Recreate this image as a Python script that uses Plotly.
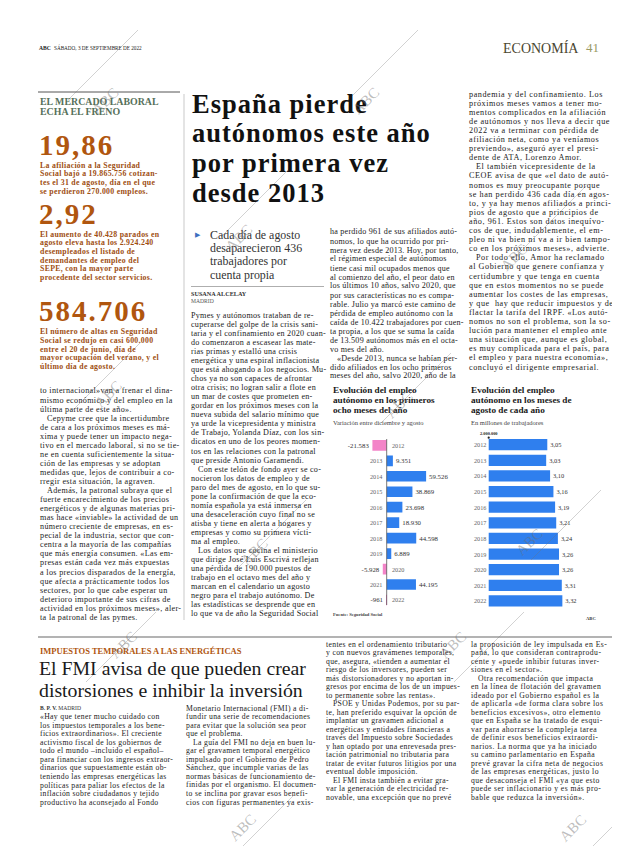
import plotly.graph_objects as go

W, H = 620, 846
def X(px): return px / W
def Y(py): return 1 - py / H

# ---------------- DATA ----------------
years = ["2012", "2013", "2014", "2015", "2016", "2017", "2018", "2019", "2020", "2021", "2022"]
var_dic_ago = [-21583, 9351, 59526, 38869, 23698, 18930, 44598, 6889, -5928, 44195, -961]
agosto_millones = [3.05, 3.03, 3.10, 3.16, 3.19, 3.21, 3.24, 3.26, 3.26, 3.31, 3.32]

chart1_title = ["Evolución del empleo", "autónomo en los primeros", "ocho meses del año"]
chart1_sub = "Variación entre diciembre y agosto"
chart2_title = ["Evolución del empleo", "autónomo en los meses de", "agosto de cada año"]
chart2_sub = "En millones de trabajadores"
chart2_base_label = "2.000.000"

sidebar_head = ["EL MERCADO LABORAL", "ECHA EL FRENO"]
sidebar_nums = ["19,86", "2,92", "584.706"]
sidebar_txt = [
    ["La afiliación a la Seguridad", "Social bajó a 19.865.756 cotizan-",
     "tes el 31 de agosto, día en el que", "se perdieron 270.000 empleos."],
    ["El aumento de 40.428 parados en", "agosto eleva hasta los 2.924.240",
     "desempleados el listado de", "demandantes de empleo del",
     "SEPE, con la mayor parte", "procedente del sector servicios."],
    ["El número de altas en Seguridad", "Social se redujo en casi 600.000",
     "entre el 20 de junio, día de", "mayor ocupación del verano, y el",
     "último día de agosto."],
]

headline = ["España pierde", "autónomos este año", "por primera vez", "desde 2013"]
subhead = ["Cada día de agosto", "desaparecieron 436", "trabajadores por", "cuenta propia"]

col1 = [
    "to internacional»van a frenar el dina-", "mismo económico y del empleo en la",
    "última parte de este año».", "^Cepyme cree que la incertidumbre",
    "de cara a los próximos meses es má-", "xima y puede tener un impacto nega-",
    "tivo en el mercado laboral, si no se tie-", "ne en cuenta suficientemente la situa-",
    "ción de las empresas y se adoptan", "medidas que, lejos de contribuir a co-",
    "rregir esta situación, la agraven.", "^Además, la patronal subraya que el",
    "fuerte encarecimiento de los precios", "energéticos y de algunas materias pri-",
    "mas hace «inviable» la actividad de un", "número creciente de empresas, en es-",
    "pecial de la industria, sector que con-", "centra a la mayoría de las compañías",
    "que más energía consumen. «Las em-", "presas están cada vez más expuestas",
    "a los precios disparados de la energía,", "que afecta a prácticamente todos los",
    "sectores, por lo que cabe esperar un", "deterioro importante de sus cifras de",
    "actividad en los próximos meses», aler-", "ta la patronal de las pymes.",
]
col2 = [
    "Pymes y autónomos trataban de re-", "cuperarse del golpe de la crisis sani-",
    "taria y el confinamiento en 2020 cuan-", "do comenzaron a escasear las mate-",
    "rias primas y estalló una crisis", "energética y una espiral inflacionista",
    "que está ahogando a los negocios. Mu-", "chos ya no son capaces de afrontar",
    "otra crisis; no logran salir a flote en", "un mar de costes que prometen en-",
    "gordar en los próximos meses con la", "nueva subida del salario mínimo que",
    "ya urde la vicepresidenta y ministra", "de Trabajo, Yolanda Díaz, con los sin-",
    "dicatos en uno de los peores momen-", "tos en las relaciones con la patronal",
    "que preside Antonio Garamendi.", "^Con este telón de fondo ayer se co-",
    "nocieron los datos de empleo y de", "paro del mes de agosto, en lo que su-",
    "pone la confirmación de que la eco-", "nomía española ya está inmersa en",
    "una desaceleración cuyo final no se", "atisba y tiene en alerta a hogares y",
    "empresas y como su primera vícti-", "ma al empleo.",
    "^Los datos que cocina el ministerio", "que dirige José Luis Escrivá reflejan",
    "una pérdida de 190.000 puestos de", "trabajo en el octavo mes del año y",
    "marcan en el calendario un agosto", "negro para el trabajo autónomo. De",
    "las estadísticas se desprende que en", "lo que va de año la Seguridad Social",
]
col3 = [
    "ha perdido 961 de sus afiliados autó-", "nomos, lo que ha ocurrido por pri-",
    "mera vez desde 2013. Hoy, por tanto,", "el régimen especial de autónomos",
    "tiene casi mil ocupados menos que", "al comienzo del año, el peor dato en",
    "los últimos 10 años, salvo 2020, que", "por sus características no es compa-",
    "rable. Julio ya marcó este camino de", "pérdida de empleo autónomo con la",
    "caída de 10.422 trabajadores por cuen-", "ta propia, a los que se suma la caída",
    "de 13.509 autónomos más en el octa-", "vo mes del año.",
    "^«Desde 2013, nunca se habían per-", "dido afiliados en los ocho primeros",
    "meses del año, salvo 2020, año de la",
]
col4 = [
    "pandemia y del confinamiento. Los", "próximos meses vamos a tener mo-",
    "mentos complicados en la afiliación", "de autónomos y nos lleva a decir que",
    "2022 va a terminar con pérdida de", "afiliación neta, como ya veníamos",
    "previendo», aseguró ayer el presi-", "dente de ATA, Lorenzo Amor.",
    "^El también vicepresidente de la", "CEOE avisa de que «el dato de autó-",
    "nomos es muy preocupante porque", "se han perdido 436 cada día en agos-",
    "to, y ya hay menos afiliados a princi-", "pios de agosto que a principios de",
    "año, 961. Estos son datos inequívo-", "cos de que, indudablemente, el em-",
    "pleo ni va bien ni va a ir bien tampo-", "co en los próximos meses», advierte.",
    "^Por todo ello, Amor ha reclamado", "al Gobierno que genere confianza y",
    "certidumbre y que tenga en cuenta", "que en estos momentos no se puede",
    "aumentar los costes de las empresas,", "y que  hay que reducir impuestos y de-",
    "flactar la tarifa del IRPF. «Los autó-", "nomos no son el problema, son la so-",
    "lución para mantener el empleo ante", "una situación que, aunque es global,",
    "es muy complicada para el país, para", "el empleo y para nuestra economía»,",
    "concluyó el dirigente empresarial.",
]

kicker2 = "IMPUESTOS TEMPORALES A LAS ENERGÉTICAS"
headline2 = ["El FMI avisa de que pueden crear", "distorsiones e inhibir la inversión"]
colA = [
    "«Hay que tener mucho cuidado con", "los impuestos temporales a los bene-",
    "ficios extraordinarios». El creciente", "activismo fiscal de los gobiernos de",
    "todo el mundo –incluido el español–", "para financiar con los ingresos extraor-",
    "dinarios que supuestamente están ob-", "teniendo las empresas energéticas las",
    "políticas para paliar los efectos de la", "inflación sobre ciudadanos y tejido",
    "productivo ha aconsejado al Fondo",
]
colB = [
    "Monetario Internacional (FMI) a di-", "fundir una serie de recomendaciones",
    "para evitar que la solución sea peor", "que el problema.",
    "^La guía del FMI no deja en buen lu-", "gar el gravamen temporal energético",
    "impulsado por el Gobierno de Pedro", "Sánchez, que incumple varias de las",
    "normas básicas de funcionamiento de-", "finidas por el organismo. El documen-",
    "to se inclina por gravar esos benefi-", "cios con figuras permanentes ya exis-",
]
colC = [
    "tentes en el ordenamiento tributario", "y con nuevos gravámenes temporales,",
    "que, asegura, «tienden a aumentar el", "riesgo de los inversores, pueden ser",
    "más distorsionadores y no aportan in-", "gresos por encima de los de un impues-",
    "to permanente sobre las rentas».", "^PSOE y Unidas Podemos, por su par-",
    "te, han preferido esquivar la opción de", "implantar un gravamen adicional a",
    "energéticas y entidades financieras a", "través del Impuesto sobre Sociedades",
    "y han optado por una enrevesada pres-", "tación patrimonial no tributaria para",
    "tratar de evitar futuros litigios por una", "eventual doble imposición.",
    "^El FMI insta también a evitar gra-", "var la generación de electricidad re-",
    "novable, una excepción que no prevé",
]
colD = [
    "la proposición de ley impulsada en Es-", "paña, lo que consideran contraprodu-",
    "cente y «puede inhibir futuras inver-", "siones en el sector».",
    "^Otra recomendación que impacta", "en la línea de flotación del gravamen",
    "ideado por el Gobierno español es la", "de aplicarla «de forma clara sobre los",
    "beneficios excesivos», otro elemento", "que en España se ha tratado de esqui-",
    "var para ahorrarse la compleja tarea", "de definir esos beneficios extraordi-",
    "narios. La norma que ya ha iniciado", "su camino parlamentario en España",
    "prevé gravar la cifra neta de negocios", "de las empresas energéticas, justo lo",
    "que desaconseja el FMI «ya que esto", "puede ser inflacionario y es más pro-",
    "bable que reduzca la inversión».",
]

# ---------------- STYLE ----------------
SERIF = "Liberation Serif"
BLUE = "#2f7fee"
PINK = "#f384c8"
BROWN = "#b0560f"
BROWN_TXT = "#9e4e12"
GREEN = "#56705a"
INK = "#222222"

ann = []
shapes = []

def txt(x, y, s, size, color=INK, family=SERIF, anchor="left", yanchor="middle", ls=0, **kw):
    if ls:
        s = f'<span style="letter-spacing:{ls}px">' + s + "</span>"
    ann.append(dict(x=X(x), y=Y(y), xref="paper", yref="paper", text=s, showarrow=False,
                    xanchor=anchor, yanchor=yanchor, align=anchor,
                    borderpad=0, font=dict(family=family, size=size, color=color), **kw))

def block(lines, x, y0, dy, size, color=INK, family=SERIF, indent=7, bold=False, ls=0):
    for i, s in enumerate(lines):
        ind = 0
        if s.startswith("^"):
            s = s[1:]
            ind = indent
        if bold:
            s = "<b>" + s + "</b>"
        txt(x + ind, y0 + i * dy, s, size, color, family, ls=ls)

def hline(x0, x1, y, color, w):
    shapes.append(dict(type="line", xref="paper", yref="paper", x0=X(x0), x1=X(x1),
                       y0=Y(y), y1=Y(y), line=dict(color=color, width=w)))

def vline(x, y0, y1, color, w):
    shapes.append(dict(type="line", xref="paper", yref="paper", x0=X(x), x1=X(x),
                       y0=Y(y0), y1=Y(y1), line=dict(color=color, width=w)))

# ---------------- FIGURE ----------------
fig = go.Figure()
fig.add_trace(go.Bar(
    y=years, x=var_dic_ago, orientation="h",
    marker=dict(color=[PINK if v < 0 else BLUE for v in var_dic_ago], line=dict(width=0)),
    width=0.69,
    text=[f"{v:,}".replace(",", ".") for v in var_dic_ago],
    textposition="outside", constraintext="none", cliponaxis=False,
    textfont=dict(family=SERIF, size=6.8, color="#333"),
    xaxis="x", yaxis="y", hoverinfo="skip"))
fig.add_trace(go.Bar(
    y=years, x=agosto_millones, orientation="h",
    marker=dict(color=BLUE, line=dict(width=0)),
    width=0.72,
    text=[f"{v:.2f}".replace(".", ",") for v in agosto_millones],
    textposition="outside", constraintext="none",
    textfont=dict(family=SERIF, size=6.4, color="#333"),
    xaxis="x2", yaxis="y2", hoverinfo="skip"))

# chart 1 year labels (category index positions)
for i, (yr, v) in enumerate(zip(years, var_dic_ago)):
    ann.append(dict(x=0, y=i, xref="x", yref="y", text=yr, showarrow=False,
                    xanchor="right" if v >= 0 else "left", xshift=-3 if v >= 0 else 3,
                    font=dict(family=SERIF, size=6.2, color="#666")))
# chart 2 year labels
for i, yr in enumerate(years):
    ann.append(dict(x=X(464), y=i, xref="paper", yref="y2", text=yr, showarrow=False,
                    xanchor="left", font=dict(family=SERIF, size=6.2, color="#666")))

shapes.append(dict(type="line", xref="x", yref="paper", x0=0, x1=0, y0=Y(597), y1=Y(431),
                   line=dict(color="#555", width=0.8)))
shapes.append(dict(type="circle", xref="paper", yref="paper", x0=X(479.6), x1=X(481.8),
                   y0=Y(430.8), y1=Y(428.6), fillcolor="#222", line=dict(width=0)))

# header
txt(30, 40, "<b>ABC</b>", 5.6)
txt(45, 40, "SÁBADO, 3 DE SEPTIEMBRE DE 2022", 5.2)
txt(572, 40, "ECONOMÍA", 14, "#4a4630", anchor="right")
txt(577, 40, "41", 13, "#9a9a66")

# sidebar
hline(30, 172, 84, "#555", 1)
block(sidebar_head, 31, 93, 11, 9.9, GREEN, bold=True)
num_y = [136.75, 205.75, 303.25]
txt_y = [157.2, 226.2, 323.7]
for n, ny, lines, ty in zip(sidebar_nums, num_y, sidebar_txt, txt_y):
    txt(30, ny, "<b>" + n + "</b>", 29, BROWN, ls=2)
    block(lines, 31, ty, 8.67, 7.8, BROWN_TXT, bold=True, ls=0.3)
vline(176, 86, 612, "#bbbbbb", 0.8)

# main article
block(headline, 183, 96, 29.5, 26.5, "#111", bold=True, ls=1)
txt(186, 226.7, "▶", 6.5, "#3d6fbf")
block(subhead, 201, 226.7, 13.3, 11.9, "#333")
hline(183, 316, 278.5, "#999", 0.8)
txt(182, 286, "<b>SUSANA ALCELAY</b>", 6.2, "#333")
txt(182, 293, "MADRID", 5.6, "#555")
block(col1, 31, 383, 9.05, 8.15, ls=0.33)
block(col2, 182, 307.3, 9.05, 8.15, ls=0.25)
block(col3, 321, 224, 9.0, 8.1, ls=0.22)
block(col4, 460, 86, 9.1, 8.2, ls=0.55)

# chart titles
block(chart1_title, 324, 382, 10.2, 9.2, "#1a1a1a", bold=True)
txt(324, 414.7, chart1_sub, 6.5, "#444")
txt(324, 606, "<b>Fuente: Seguridad Social</b>", 4.6, "#444")
block(chart2_title, 462, 382, 10.2, 9.2, "#1a1a1a", bold=True)
txt(462, 414.7, chart2_sub, 6.5, "#444")
txt(481, 425.5, "<b>" + chart2_base_label + "</b>", 4.4, "#222", anchor="center")
txt(583, 610, "<b>ABC</b>", 4.6, "#333", anchor="center")

# second article
hline(30, 612, 629, "#9a9a9a", 1.6)
txt(31, 643.3, "<b>" + kicker2 + "</b>", 8.5, BROWN)
block(headline2, 30, 660, 22, 19.8, "#1a1a1a")
txt(31, 700, "<b>B. P. V.</b> MADRID", 5.6, "#333")
block(colA, 31, 708.6, 8.55, 7.7, ls=0.33)
block(colB, 177, 700, 8.55, 7.7, ls=0.33)
block(colC, 317, 636, 8.52, 7.7, ls=0.33)
block(colD, 462, 636, 8.52, 7.7, ls=0.45)

# watermarks
WM = "rgba(110,110,110,0.45)"
for cx, cy in [(82, 70), (362, 70), (235, 207), (530, 226), (85, 382), (250, 540),
               (395, 393), (545, 530), (100, 652), (238, 835), (468, 652), (588, 835)]:
    shapes.append(dict(type="line", xref="paper", yref="paper", x0=X(cx - 22), y0=Y(cy + 22),
                       x1=X(cx + 48), y1=Y(cy - 48), line=dict(color=WM, width=0.7)))
    ann.append(dict(x=X(cx - 4), y=Y(cy + 4), xref="paper", yref="paper", text="ABC",
                    showarrow=False, textangle=-45,
                    font=dict(family=SERIF, size=15, color=WM)))

fig.update_layout(
    width=W, height=H, margin=dict(l=0, r=0, t=0, b=0, pad=0),
    paper_bgcolor="white", plot_bgcolor="rgba(0,0,0,0)", showlegend=False,
    xaxis=dict(domain=[X(322), X(455)], range=[-85650, 115250], visible=False,
               fixedrange=True, anchor="y"),
    yaxis=dict(domain=[Y(599.7), Y(429.6)], type="category", categoryorder="array",
               categoryarray=years, range=[10.5, -0.5], visible=False, fixedrange=True,
               anchor="x"),
    xaxis2=dict(domain=[X(480.7), X(612)], range=[2.0, 4.353], visible=False,
                fixedrange=True, anchor="y2"),
    yaxis2=dict(domain=[Y(600.8), Y(428.9)], type="category", categoryorder="array",
                categoryarray=years, range=[10.5, -0.5], visible=False, fixedrange=True,
                anchor="x2"),
    annotations=ann, shapes=shapes,
)
fig.write_html("out.html")
